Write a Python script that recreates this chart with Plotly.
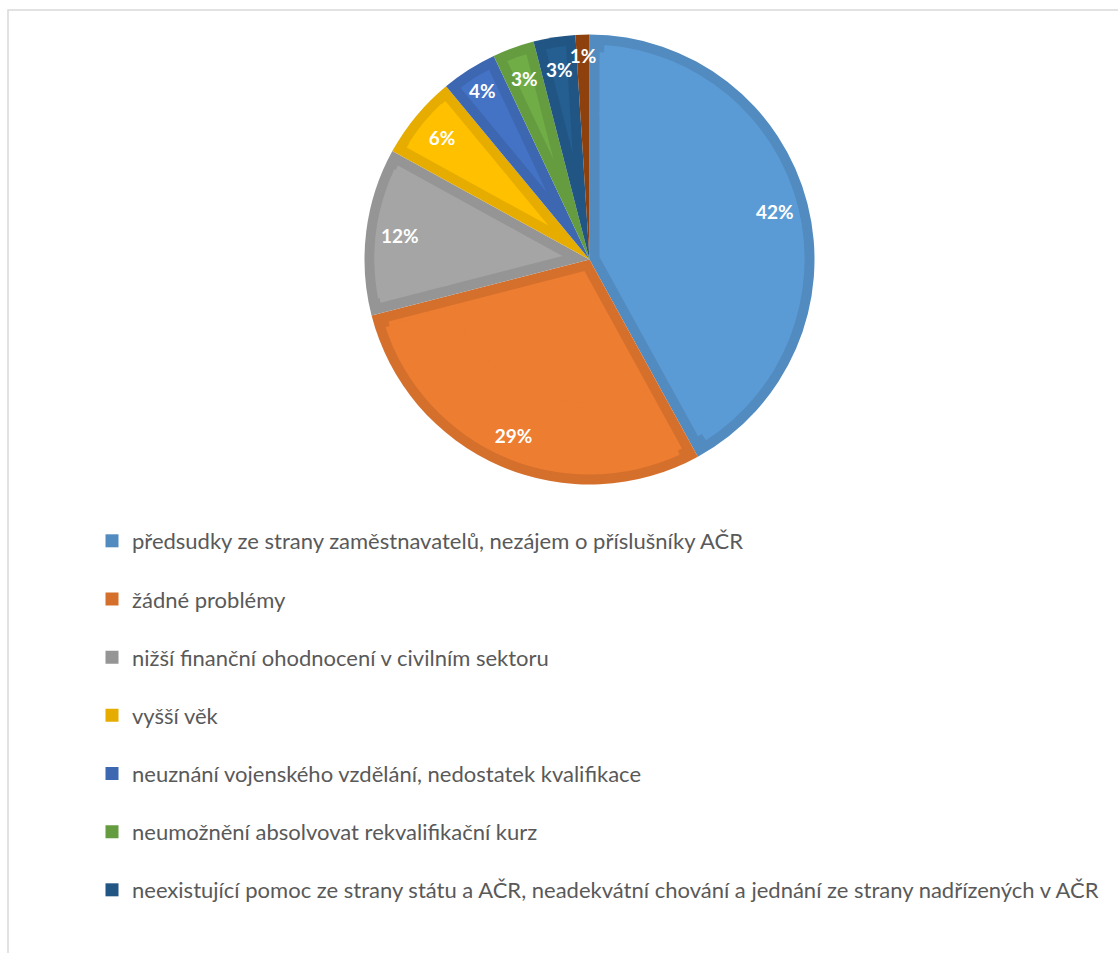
import math
import plotly.graph_objects as go

# Survey answers (share of respondents, %)
categories = [
    "předsudky ze strany zaměstnavatelů, nezájem o příslušníky AČR",
    "žádné problémy",
    "nižší finanční ohodnocení v civilním sektoru",
    "vyšší věk",
    "neuznání vojenského vzdělání, nedostatek kvalifikace",
    "neumožnění absolvovat rekvalifikační kurz",
    "neexistující pomoc ze strany státu a AČR, neadekvátní chování a jednání ze strany nadřízených v AČR",
    "jiné",
]
shares = [42, 29, 12, 6, 4, 3, 3, 1]
legend_count = 7

fill_colors = ["#5B9BD5", "#ED7D31", "#A5A5A5", "#FFC000", "#4472C4", "#70AD47", "#255E91", "#9E480E"]
edge_colors = ["#528BC0", "#D5702C", "#959595", "#E6AD00", "#3D67B0", "#659C40", "#215583", "#8E410D"]

W, H = 1118, 953
CX, CY, R = 589.5, 259.5, 225.0   # pie centre and radius in pixels
BAND = 10.0                        # width of the darker inner border of each slice
CLEAR = "rgba(0,0,0,0)"


def domain(r):
    return dict(x=[(CX - r) / W, (CX + r) / W],
                y=[(H - CY - r) / H, (H - CY + r) / H])


common = dict(sort=False, direction="clockwise", rotation=0,
              textinfo="none", hoverinfo="skip", showlegend=False)

fig = go.Figure()

# full pie in the border colours
fig.add_trace(go.Pie(labels=categories, values=shares, domain=domain(R),
                     marker=dict(colors=edge_colors, line=dict(width=0)), **common))

total = sum(shares)
for i, v in enumerate(shares):
    half = math.pi * v / total
    shift = BAND / math.sin(half)
    inner = R - BAND - shift
    if inner <= 2:
        continue
    # lighter fill, inset from the slice edges by pulling a smaller copy outward
    colors = [CLEAR] * len(shares)
    colors[i] = fill_colors[i]
    pulls = [0] * len(shares)
    pulls[i] = shift / inner
    fig.add_trace(go.Pie(labels=categories, values=shares, domain=domain(R - BAND),
                         pull=pulls, marker=dict(colors=colors, line=dict(width=0)),
                         **common))
    # wide slices: extra ring segment to fill the outer corners of the inset
    deg = 4.0
    dv = deg / 360 * total
    if v > 4 * dv:
        rho0 = BAND / math.sin(math.radians(deg))
        before = sum(shares[:i])
        after = total - before - v
        vals = [before, dv, v - 2 * dv, dv, after]
        labs = ["a", "b", "c", "d", "e"]
        cols = [CLEAR, CLEAR, fill_colors[i], CLEAR, CLEAR]
        fig.add_trace(go.Pie(labels=labs, values=vals, domain=domain(R - BAND),
                             hole=rho0 / (R - BAND),
                             marker=dict(colors=cols, line=dict(width=0)), **common))

# percentage labels; the narrowest slices get their label a little further in
label_font = dict(family="Lato", size=19, color="white", weight="bold")
for narrow, radius in ((False, R), (True, R - 14)):
    templates = ["%{percent}" if (v < 4) == narrow else "" for v in shares]
    fig.add_trace(go.Pie(labels=categories, values=shares, domain=domain(radius), hole=0.7,
                         sort=False, direction="clockwise", rotation=0,
                         marker=dict(colors=[CLEAR] * len(shares), line=dict(width=0)),
                         texttemplate=templates, textposition="inside",
                         insidetextorientation="horizontal", textfont=label_font,
                         hovertemplate="%{label}<br>%{percent}<extra></extra>",
                         showlegend=False))

# legend entries
row_top, row_step = 541.0, 58.17
legend_layouts = {}
for k in range(legend_count):
    name = "legend" if k == 0 else f"legend{k + 1}"
    fig.add_trace(go.Scatter(x=[None], y=[None], mode="markers", name=categories[k],
                             marker=dict(symbol="square", size=13, color=edge_colors[k]),
                             legend=name, showlegend=True, hoverinfo="skip"))
    legend_layouts[name] = dict(
        x=92 / W, xanchor="left",
        y=1 - (row_top + k * row_step) / H, yanchor="middle",
        bgcolor=CLEAR, borderwidth=0,
        font=dict(family="Lato", size=22, color="#595959"),
    )

fig.update_layout(
    width=W, height=H,
    margin=dict(l=0, r=0, t=0, b=0),
    paper_bgcolor="white", plot_bgcolor="white",
    xaxis=dict(visible=False), yaxis=dict(visible=False),
    uniformtext=dict(minsize=19, mode="show"),
    shapes=[dict(type="rect", xref="paper", yref="paper",
                 x0=8 / W, x1=1.2, y0=-0.2, y1=1 - 10 / H,
                 line=dict(color="#D9D9D9", width=1.5), layer="below")],
    **legend_layouts,
)

fig.write_html("out.html")
